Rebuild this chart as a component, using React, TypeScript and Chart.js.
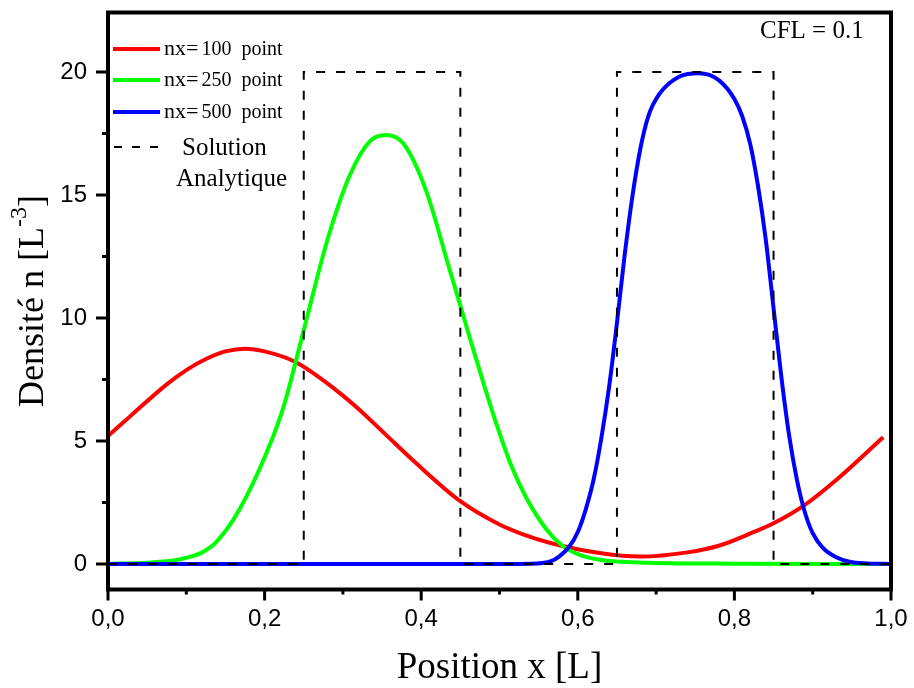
import React, { useEffect, useRef } from 'react';
import { Chart, registerables } from 'chart.js';

Chart.register(...registerables);

// nx = 100 points (red)
const redX = [0, 0.03, 0.075, 0.1, 0.125, 0.15, 0.175, 0.2, 0.24, 0.29, 0.32, 0.35, 0.395, 0.45, 0.5, 0.53, 0.565, 0.63, 0.68, 0.74, 0.78, 0.825, 0.85, 0.89, 0.93, 0.99];
const redY = [5.2, 6.05, 7.3, 7.88, 8.33, 8.64, 8.75, 8.64, 8.2, 7.1, 6.3, 5.4, 4.05, 2.55, 1.6, 1.2, 0.85, 0.43, 0.3, 0.47, 0.74, 1.3, 1.65, 2.4, 3.41, 5.15];

// nx = 250 points (green)
const greenX = [0, 0.05, 0.085, 0.1, 0.117, 0.13, 0.14, 0.16, 0.193, 0.223, 0.25, 0.279, 0.308, 0.334, 0.355, 0.377, 0.406, 0.436, 0.45, 0.462, 0.48, 0.497, 0.515, 0.534, 0.56, 0.58, 0.6, 0.628, 0.69, 0.8, 1.0];
const greenY = [0, 0.05, 0.15, 0.25, 0.42, 0.66, 0.95, 1.79, 3.82, 6.26, 9.5, 13.04, 15.74, 17.17, 17.44, 17.1, 15.2, 12.0, 10.5, 9.2, 7.3, 5.6, 4.0, 2.7, 1.4, 0.75, 0.4, 0.17, 0.05, 0.01, 0];

// nx = 500 points (blue)
const blueX = [0, 0.5, 0.54, 0.555, 0.565, 0.576, 0.589, 0.6, 0.61, 0.62, 0.63, 0.64, 0.65, 0.66, 0.67, 0.68, 0.69, 0.704, 0.73, 0.755, 0.78, 0.8, 0.81, 0.82, 0.83, 0.84, 0.85, 0.86, 0.87, 0.88, 0.89, 0.9, 0.913, 0.93, 0.947, 0.97, 1.0];
const blueY = [0, 0, 0.01, 0.04, 0.1, 0.3, 0.7, 1.3, 2.2, 3.4, 5.1, 7.2, 9.8, 12.6, 15.0, 16.9, 18.2, 19.1, 19.82, 19.95, 19.67, 18.9, 18.2, 17.1, 15.4, 13.2, 10.4, 7.6, 5.2, 3.4, 2.1, 1.25, 0.65, 0.27, 0.09, 0.02, 0];

// Analytical solution (dashed)
const anaX = [0, 0.25, 0.25, 0.45, 0.45, 0.65, 0.65, 0.85, 0.85, 1.0];
const anaY = [0, 0, 20, 20, 0, 0, 20, 20, 0, 0];

const xMajor = [0, 0.2, 0.4, 0.6, 0.8, 1.0];
const xMinor = [0.1, 0.3, 0.5, 0.7, 0.9];
const xTickLabels = ['0,0', '0,2', '0,4', '0,6', '0,8', '1,0'];
const yMajor = [0, 5, 10, 15, 20];
const yMinor = [2.5, 7.5, 12.5, 17.5];
const yTickLabels = ['0', '5', '10', '15', '20'];

const seriesLabels = ['100', '250', '500'];
const seriesColors = ['#ff0000', '#00ff00', '#0000ff'];

const SERIF = '"Liberation Serif", "Times New Roman", serif';
const SANS = '"Liberation Sans", Arial, sans-serif';

const toPts = (xs: number[], ys: number[]) => xs.map((x, i) => ({ x, y: ys[i] }));

const overlay = {
  id: 'overlay',
  afterDraw(chart: any) {
    const { ctx, chartArea: a, scales } = chart;
    const x = scales.x;
    const y = scales.y;
    ctx.save();
    // frame
    ctx.strokeStyle = '#000';
    ctx.lineWidth = 4;
    ctx.strokeRect(a.left, a.top, a.right - a.left, a.bottom - a.top);
    // ticks
    ctx.lineWidth = 3;
    ctx.beginPath();
    xMajor.forEach((v) => {
      const px = x.getPixelForValue(v);
      ctx.moveTo(px, a.bottom);
      ctx.lineTo(px, a.bottom + 11);
    });
    xMinor.forEach((v) => {
      const px = x.getPixelForValue(v);
      ctx.moveTo(px, a.bottom);
      ctx.lineTo(px, a.bottom + 5);
    });
    yMajor.forEach((v) => {
      const py = y.getPixelForValue(v);
      ctx.moveTo(a.left, py);
      ctx.lineTo(a.left - 12, py);
    });
    yMinor.forEach((v) => {
      const py = y.getPixelForValue(v);
      ctx.moveTo(a.left, py);
      ctx.lineTo(a.left - 6, py);
    });
    ctx.stroke();

    // legend
    ctx.fillStyle = '#000';
    ctx.textAlign = 'left';
    ctx.textBaseline = 'alphabetic';
    const rows = [49, 80, 112];
    rows.forEach((ry, i) => {
      ctx.strokeStyle = seriesColors[i];
      ctx.lineWidth = 4;
      ctx.beginPath();
      ctx.moveTo(113, ry);
      ctx.lineTo(160, ry);
      ctx.stroke();
      ctx.font = `22px ${SERIF}`;
      ctx.fillText('nx=', 164, ry + 6);
      const w = ctx.measureText('nx=').width;
      ctx.font = `20px ${SERIF}`;
      ctx.fillText(`${seriesLabels[i]}  point`, 164 + w + 3, ry + 6);
    });
    ctx.strokeStyle = '#000';
    ctx.lineWidth = 2;
    ctx.setLineDash([8, 10]);
    ctx.beginPath();
    ctx.moveTo(114, 147);
    ctx.lineTo(166, 147);
    ctx.stroke();
    ctx.setLineDash([]);
    ctx.font = `25px ${SERIF}`;
    ctx.fillText('Solution', 182, 155);
    ctx.fillText('Analytique', 176, 186);

    // CFL annotation
    ctx.font = `25px ${SERIF}`;
    ctx.fillText('CFL = 0.1', 760, 38);

    // x title
    ctx.font = `37px ${SERIF}`;
    ctx.textAlign = 'center';
    ctx.fillText('Position x [L]', (a.left + a.right) / 2, 678);

    // y title with superscript
    ctx.translate(43, (a.top + a.bottom) / 2);
    ctx.rotate(-Math.PI / 2);
    ctx.textAlign = 'left';
    const main = 'Densité n [L';
    const sup = '-3';
    const end = ']';
    ctx.font = `36px ${SERIF}`;
    const w1 = ctx.measureText(main).width;
    const w3 = ctx.measureText(end).width;
    ctx.font = `24px ${SERIF}`;
    const w2 = ctx.measureText(sup).width;
    const total = w1 + w2 + w3;
    let cx = -total / 2;
    ctx.font = `36px ${SERIF}`;
    ctx.fillText(main, cx, 0);
    cx += w1;
    ctx.font = `24px ${SERIF}`;
    ctx.fillText(sup, cx, -17);
    cx += w2;
    ctx.font = `36px ${SERIF}`;
    ctx.fillText(end, cx, 0);
    ctx.restore();
  },
};

export default function App() {
  const canvasRef = useRef<HTMLCanvasElement | null>(null);

  useEffect(() => {
    const canvas = canvasRef.current;
    if (!canvas) return;
    const lineBase = {
      showLine: true,
      pointRadius: 0,
      borderWidth: 4,
      tension: 0.4,
      cubicInterpolationMode: 'monotone' as const,
      fill: false,
    };
    const chart = new Chart(canvas, {
      type: 'scatter',
      data: {
        datasets: [
          { ...lineBase, label: 'nx= 100  point', data: toPts(redX, redY), borderColor: seriesColors[0], backgroundColor: seriesColors[0], order: 4 },
          { ...lineBase, label: 'nx= 250  point', data: toPts(greenX, greenY), borderColor: seriesColors[1], backgroundColor: seriesColors[1], order: 3 },
          { ...lineBase, label: 'nx= 500  point', data: toPts(blueX, blueY), borderColor: seriesColors[2], backgroundColor: seriesColors[2], order: 2 },
          {
            label: 'Solution Analytique',
            data: toPts(anaX, anaY),
            showLine: true,
            pointRadius: 0,
            borderWidth: 2,
            borderDash: [9, 11],
            borderColor: '#000',
            backgroundColor: '#000',
            tension: 0,
            fill: false,
            order: 1,
          },
        ],
      },
      options: {
        responsive: false,
        animation: false,
        layout: { padding: { top: 12.5, right: 914 - 891, left: 0, bottom: 0 } },
        plugins: { legend: { display: false }, tooltip: { enabled: false }, title: { display: false } },
        scales: {
          x: {
            type: 'linear',
            min: 0,
            max: 1,
            afterBuildTicks: (s: any) => {
              s.ticks = xMajor.map((v) => ({ value: v }));
            },
            afterFit: (s: any) => {
              s.height = 688 - 589.5;
              s.paddingLeft = 0;
              s.paddingRight = 0;
              s.paddingTop = 0;
              s.paddingBottom = 0;
            },
            ticks: {
              callback: (_v: any, i: number) => xTickLabels[i],
              font: { family: SANS, size: 24 },
              color: '#000',
              padding: 15,
              maxRotation: 0,
              autoSkip: false,
            },
            grid: { display: false, drawTicks: false },
            border: { display: false },
          },
          y: {
            type: 'linear',
            min: -1.04,
            max: 22.42,
            afterBuildTicks: (s: any) => {
              s.ticks = yMajor.map((v) => ({ value: v }));
            },
            afterFit: (s: any) => {
              s.width = 108;
              s.paddingLeft = 0;
              s.paddingRight = 0;
              s.paddingTop = 0;
              s.paddingBottom = 0;
            },
            ticks: {
              callback: (_v: any, i: number) => yTickLabels[i],
              font: { family: SANS, size: 24 },
              color: '#000',
              padding: 21,
              autoSkip: false,
            },
            grid: { display: false, drawTicks: false },
            border: { display: false },
          },
        },
      },
      plugins: [overlay],
    });
    return () => chart.destroy();
  }, []);

  return (
    <div style={{ position: 'absolute', left: 0, top: 0, width: 914, height: 688, background: '#fff' }}>
      <canvas ref={canvasRef} width={914} height={688} />
    </div>
  );
}
